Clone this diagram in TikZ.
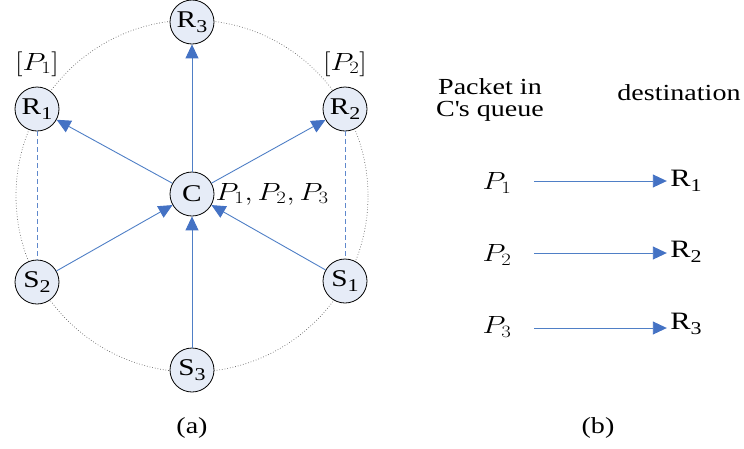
\documentclass[tikz,border=0pt]{standalone}
\usepackage{fontspec}
\setmainfont[FakeStretch=1.22]{Liberation Serif}
\usepackage{tikz}
\usetikzlibrary{positioning,arrows.meta,calc}
\definecolor{nodefill}{HTML}{E6ECF7}
\definecolor{linkblue}{HTML}{4F7FC6}
\definecolor{tipblue}{HTML}{4472C4}
\definecolor{dashblue}{HTML}{5F88CC}
\newcommand{\widemath}[1]{\scalebox{1.2}[1]{$#1$}}
\newcommand{\idx}[1]{\raisebox{-0.22em}{\fontsize{18}{18}\selectfont#1}}

\begin{document}
\begin{tikzpicture}[
  x=1pt,y=-1pt,
  font=\fontsize{23}{25}\selectfont,
  radio/.style ={draw,circle,fill=nodefill,minimum size=44pt,inner sep=0pt,line width=0.8pt,font=\fontsize{24}{24}\selectfont},
  dest/.style  ={font=\fontsize{25}{25}\selectfont},
  plabel/.style={font=\fontsize{25}{27}\selectfont,inner sep=1pt},
  arrow/.style ={-{Triangle[length=14pt,width=13pt,color=tipblue]},linkblue,line width=0.9pt},
  pair/.style  ={dashed,dash pattern=on 5pt off 3pt,dashblue,line width=0.9pt}
]
\useasboundingbox (0,0) rectangle (744,448);
% (a) ring of nodes round the relay C
\draw[black!60,dotted,line width=0.7pt] (192,196) circle[radius=176];
\node[radio] (r3) at (192,22)  {R\idx{3}};
\node[radio] (r1) at (37,109)  {R\idx{1}};
\node[radio] (r2) at (345,109) {R\idx{2}};
\node[radio] (c)  at (192,194) {C};
\node[radio] (s2) at (37,282)  {S\idx{2}};
\node[radio] (s1) at (345,281) {S\idx{1}};
\node[radio] (s3) at (192,370) {S\idx{3}};
\node[plabel] (k1) at (37,64)  {\widemath{[P_1]}};
\node[plabel] (k2) at (345,64) {\widemath{[P_2]}};
\node[plabel,right=0pt of c] (q) {\widemath{P_1,P_2,P_3}};
\draw[pair] (r1) -- (s2);
\draw[pair] (r2) -- (s1);
\draw[arrow] (c) -- (r1);
\draw[arrow] (c) -- (r2);
\draw[arrow] (c) -- (r3);
\draw[arrow] (s2) -- (c);
\draw[arrow] (s1) -- (c);
\draw[arrow] (s3) -- (c);
\node (capa) at (192,428) {(a)};
% (b) queue of C and destinations
\node[align=center] (head1) at (490,100) {Packet in\\[-3pt]C\textquotesingle s queue};
\node (head2) at (679,93) {destination};
\node[plabel] (p1) at (497,183) {\widemath{P_1}};
\node[plabel] (p2) at (497,255) {\widemath{P_2}};
\node[plabel] (p3) at (497,327) {\widemath{P_3}};
\node[dest] (d1) at (686,181) {R\idx{1}};
\node[dest] (d2) at (686,252) {R\idx{2}};
\node[dest] (d3) at (686,324) {R\idx{3}};
\coordinate (a1) at (534,181);
\coordinate (a2) at (534,253);
\coordinate (a3) at (534,328);
\draw[arrow] (a1) -- (a1 -| d1.west);
\draw[arrow] (a2) -- (a2 -| d2.west);
\draw[arrow] (a3) -- (a3 -| d3.west);
\node (capb) at (598,428) {(b)};
\end{tikzpicture}
\end{document}
